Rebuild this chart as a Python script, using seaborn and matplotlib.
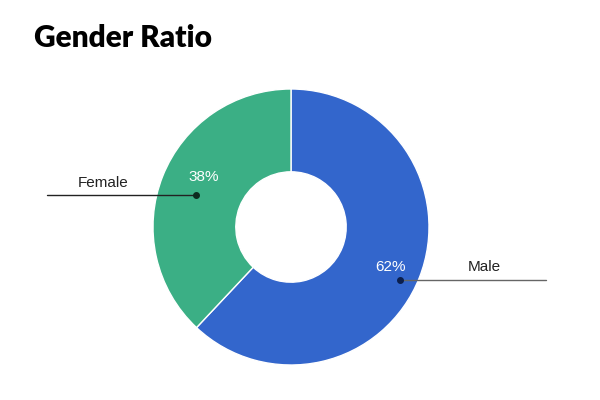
import matplotlib
matplotlib.use("Agg")
import matplotlib.pyplot as plt
import seaborn as sns

labels = ["Male", "Female"]
shares = [62, 38]
colors = ["#3366CC", "#3BAF85"]

sns.set_theme(style="white")
plt.rcParams["font.family"] = ["Liberation Sans", "DejaVu Sans"]

fig = plt.figure(figsize=(6, 4), dpi=100)
ax = fig.add_axes([0, 0, 1, 1])

cx, cy, r = 291, 173, 138
wedges, _ = ax.pie(shares, colors=colors, startangle=90, counterclock=False,
                   center=(cx, cy), radius=r, frame=True,
                   wedgeprops=dict(width=r * 0.6, edgecolor="white", linewidth=1))
ax.set_xlim(0, 600)
ax.set_ylim(0, 400)
ax.set_aspect("equal")
ax.axis("off")

# leader lines with dots, percent inside the ring, name above the line
male_dot = (400, 120)
ax.plot([male_dot[0], 546], [male_dot[1], male_dot[1]], color="#666666", lw=1, zorder=3)
ax.plot(*male_dot, "o", color="#0b1f4d", ms=4, zorder=4)
ax.text(390, 133, f"{shares[0]}%", color="white", fontsize=11, ha="center", va="center")
ax.text(484, 133, labels[0], color="#222222", fontsize=11, ha="center", va="center")

female_dot = (196, 205)
ax.plot([47, female_dot[0]], [female_dot[1], female_dot[1]], color="#222222", lw=1, zorder=3)
ax.plot(*female_dot, "o", color="#0d2b1f", ms=4, zorder=4)
ax.text(204, 223, f"{shares[1]}%", color="white", fontsize=11, ha="center", va="center")
ax.text(103, 217, labels[1], color="#222222", fontsize=11, ha="center", va="center")

fig.text(34 / 600, 1 - 38 / 400, "Gender Ratio", fontsize=21.5, fontweight="heavy",
         family=["Lato", "DejaVu Sans"], ha="left", va="center", color="black")

fig.savefig("out.png", dpi=100, facecolor="white")
